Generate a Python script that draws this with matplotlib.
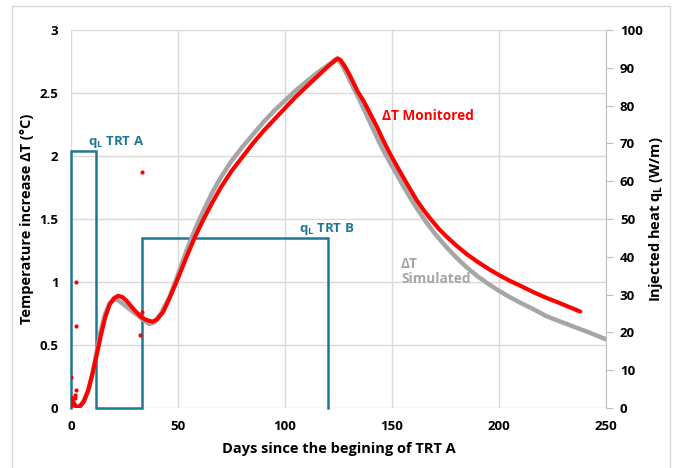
import matplotlib
matplotlib.use("Agg")
import matplotlib.pyplot as plt
from matplotlib.patches import Rectangle

# DATA
# monitored temperature increase (red)
mon_days = [0, 0.5, 1, 2, 3, 4, 6, 8, 10, 12, 14, 16, 18, 20, 22, 24, 26, 28, 30, 33, 35, 38,
            40, 43, 46, 50, 54, 58, 62, 66, 70, 75, 80, 85, 90, 95, 100, 105, 110, 115, 120, 124.6,
            126, 128, 130, 132, 134, 136.6, 140, 143, 146, 149, 152, 155, 158, 161.5, 165, 168.5,
            172, 175.5, 180, 185, 190, 195, 200, 205, 210, 216, 222, 228, 233, 238]
mon_dT = [0, 0.08, 0.05, 0.02, 0.0, 0.01, 0.05, 0.14, 0.27, 0.42, 0.58, 0.72, 0.82, 0.87, 0.89, 0.88,
          0.85, 0.81, 0.77, 0.72, 0.70, 0.685, 0.70, 0.76, 0.87, 1.03, 1.20, 1.36, 1.50, 1.63, 1.75,
          1.88, 1.99, 2.10, 2.20, 2.29, 2.38, 2.47, 2.55, 2.63, 2.71, 2.775,
          2.76, 2.71, 2.65, 2.58, 2.51, 2.44, 2.33, 2.23, 2.12, 2.02, 1.928, 1.838, 1.75, 1.65, 1.565,
          1.49, 1.42, 1.36, 1.29, 1.22, 1.16, 1.105, 1.055, 1.01, 0.97, 0.92, 0.875, 0.835, 0.80, 0.765]

# scattered outliers of the monitored series
out_days = [0, 2.2, 2.2, 2.2, 2.0, 2.0, 33, 32.2, 33]
out_dT = [0.25, 1.0, 0.65, 0.14, 0.10, 0.08, 1.87, 0.58, 0.76]

# simulated temperature increase (gray)
sim_days = [0, 2, 5, 8, 10, 12, 14, 16, 18, 20, 22, 24, 27, 30, 33, 36.5, 39, 42, 46, 50, 54, 58,
            62, 66, 70, 75, 80, 85, 90, 95, 100, 105, 110, 115, 120, 124, 126, 128, 130, 132, 135,
            138, 141, 144, 146.7, 150, 153, 156, 159, 162, 166, 170, 175, 180, 185, 190, 195, 200,
            205, 210, 216, 222, 228, 235, 242, 250]
sim_dT = [0, 0.0, 0.03, 0.13, 0.27, 0.45, 0.62, 0.75, 0.83, 0.86, 0.855, 0.83, 0.79, 0.75, 0.71,
          0.667, 0.68, 0.75, 0.88, 1.06, 1.25, 1.42, 1.57, 1.71, 1.83, 1.96, 2.07, 2.17, 2.27, 2.36,
          2.44, 2.52, 2.59, 2.66, 2.72, 2.77, 2.74, 2.68, 2.61, 2.54, 2.44, 2.33, 2.22, 2.11, 2.02,
          1.92, 1.83, 1.74, 1.655, 1.575, 1.475, 1.385, 1.285, 1.195, 1.115, 1.045, 0.985, 0.93,
          0.88, 0.835, 0.785, 0.73, 0.69, 0.645, 0.60, 0.545]

# injected heat (W/m) of the two thermal response tests
q_days = [0, 0, 11.7, 11.7, 33.2, 33.2, 120, 120]
q_vals = [0, 68, 68, 0, 0, 45, 45, 0]

RED = "#FF0000"
GRAY = "#A6A6A6"
TEAL = "#1F7891"

plt.rcParams["font.family"] = ["Open Sans", "DejaVu Sans"]
plt.rcParams["font.weight"] = "bold"
plt.rcParams["mathtext.fontset"] = "custom"
plt.rcParams["mathtext.bf"] = "Open Sans:bold"
plt.rcParams["mathtext.rm"] = "Open Sans:bold"


def main():
    fig = plt.figure(figsize=(6.75, 4.68), dpi=100)
    ax = fig.add_axes([71 / 675, 60 / 468, 535 / 675, 378 / 468])
    ax2 = ax.twinx()

    ax.set_zorder(ax2.get_zorder() + 1)
    ax.patch.set_visible(False)

    ax2.set_ylim(0, 100)
    # heat boxes live on the right axis scale but are drawn with the curves
    ax.plot(q_days, q_vals, color=TEAL, linewidth=1.8, solid_joinstyle="miter",
            transform=ax2.transData, clip_on=False, zorder=2.1)
    ax.plot(sim_days, sim_dT, color=GRAY, linewidth=3.2, solid_capstyle="round", zorder=2.2)
    ax.plot(mon_days, mon_dT, color=RED, linewidth=3.0, solid_capstyle="round", zorder=2.3)
    ax.scatter(out_days, out_dT, color=RED, s=4, zorder=2.4)

    ax.set_xlim(0, 250)
    ax.set_ylim(0, 3)
    ax.set_xticks([0, 50, 100, 150, 200, 250])
    ax.set_yticks([0, 0.5, 1, 1.5, 2, 2.5, 3])
    ax.set_yticklabels(["0", "0.5", "1", "1.5", "2", "2.5", "3"])
    ax2.set_yticks(range(0, 101, 10))

    ax.grid(True, color="#D9D9D9", linewidth=1)
    for s in ["left", "right", "top", "bottom"]:
        ax.spines[s].set_visible(False)
    for s in ["left", "top", "bottom"]:
        ax2.spines[s].set_visible(False)
    ax2.spines["right"].set_color("#BFBFBF")

    ax.tick_params(axis="both", length=0, labelsize=9.5, pad=9)
    ax2.tick_params(axis="y", length=5, color="#BFBFBF", labelsize=9.5, pad=5)

    ax.set_xlabel("Days since the begining of TRT A", fontsize=10.5, fontweight="bold", labelpad=6)
    ax.set_ylabel("Temperature increase ΔT (°C)", fontsize=10.5, fontweight="bold", labelpad=4)
    ax2.set_ylabel(r"Injected heat q$_\mathbf{L}$ (W/m)", fontsize=10.5, fontweight="bold", labelpad=3)

    ax.text(21.3, 2.11, r"q$_\mathbf{L}$ TRT A", color=TEAL, fontsize=9.5, fontweight="bold",
            ha="center", va="center")
    ax.text(119.6, 1.42, r"q$_\mathbf{L}$ TRT B", color=TEAL, fontsize=9.5, fontweight="bold",
            ha="center", va="center")
    ax.text(166.8, 2.32, "ΔT Monitored", color=RED, fontsize=9.8, fontweight="bold",
            ha="center", va="center")
    ax.text(154.2, 1.08, "ΔT\nSimulated", color=GRAY, fontsize=9.8, fontweight="bold",
            ha="left", va="center", linespacing=1.1)

    fig.patches.append(Rectangle((12 / 675, -0.1), 658 / 675, 1.087, transform=fig.transFigure,
                                 fill=False, edgecolor="#D9D9D9", linewidth=1))

    fig.savefig("out.png", dpi=100)


if __name__ == "__main__":
    main()
